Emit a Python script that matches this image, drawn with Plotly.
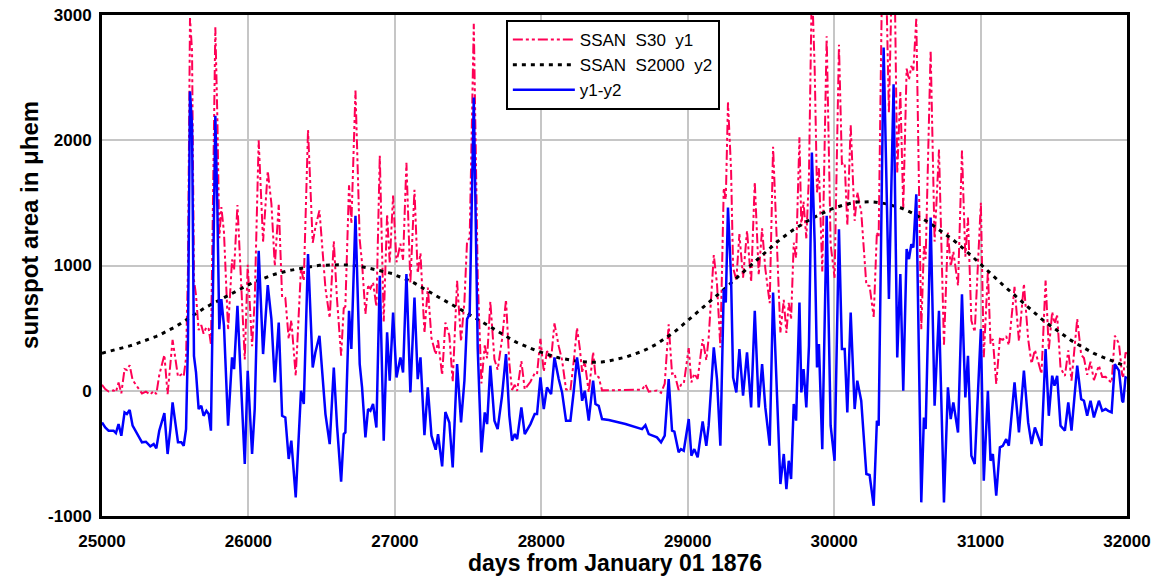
import plotly.graph_objects as go

# ---- data ----
days = [
    25000, 25022, 25045, 25079, 25095, 25113, 25132, 25154, 25170, 25189, 25209, 25239, 25273, 25300,
    25330, 25353, 25371, 25391, 25426, 25448, 25467, 25482, 25501, 25519, 25542, 25558, 25574, 25587,
    25601, 25615, 25628, 25642, 25660, 25678, 25694, 25713, 25729, 25744, 25756, 25774, 25788, 25801,
    25815, 25833, 25861, 25888, 25902, 25925, 25947, 25975, 25995, 26025, 26043, 26070, 26100, 26132,
    26157, 26180, 26207, 26230, 26252, 26275, 26293, 26323, 26359, 26378, 26407, 26439, 26457, 26485,
    26526, 26555, 26583, 26605, 26633, 26651, 26662, 26687, 26703, 26731, 26760, 26776, 26799, 26817,
    26833, 26851, 26874, 26897, 26924, 26947, 26965, 26988, 27011, 27038, 27056, 27079, 27106, 27134,
    27156, 27175, 27202, 27225, 27250, 27279, 27295, 27323, 27345, 27372, 27395, 27425, 27452, 27475,
    27493, 27511, 27539, 27566, 27591, 27614, 27630, 27652, 27680, 27702, 27732, 27759, 27782, 27800,
    27819, 27835, 27864, 27887, 27926, 27955, 27971, 27994, 28017, 28039, 28067, 28090, 28119, 28142,
    28169, 28199, 28222, 28244, 28263, 28279, 28297, 28324, 28354, 28370, 28392, 28415, 28461, 28575,
    28688, 28711, 28734, 28790, 28818, 28843, 28870, 28893, 28909, 28938, 28954, 28973, 29007, 29025,
    29045, 29068, 29102, 29127, 29143, 29178, 29200, 29223, 29246, 29260, 29275, 29296, 29310, 29332,
    29353, 29378, 29405, 29433, 29458, 29485, 29508, 29530, 29560, 29583, 29610, 29633, 29656, 29674,
    29690, 29706, 29724, 29740, 29763, 29776, 29791, 29810, 29828, 29848, 29867, 29883, 29896, 29919,
    29949, 29976, 30003, 30033, 30053, 30072, 30090, 30113, 30140, 30158, 30185, 30220, 30242, 30270,
    30292, 30304, 30338, 30356, 30374, 30406, 30431, 30452, 30472, 30495, 30511, 30527, 30541, 30561,
    30577, 30595, 30613, 30625, 30659, 30686, 30716, 30750, 30777, 30796, 30814, 30846, 30873, 30896,
    30914, 30937, 30960, 30977, 31002, 31022, 31050, 31068, 31084, 31107, 31132, 31152, 31175, 31193,
    31211, 31232, 31262, 31296, 31325, 31348, 31371, 31394, 31416, 31444, 31466, 31489, 31505, 31523,
    31546, 31576, 31599, 31621, 31660, 31687, 31706, 31728, 31751, 31774, 31808, 31831, 31854, 31872,
    31895, 31917, 31945, 31967, 31974, 31990, 32000,
]

# y1 - y2 (blue curve)
y1_minus_y2 = [
    -253, -293, -319, -319, -338, -266, -359, -173, -186, -154, -279, -346, -412, -407,
    -444, -426, -460, -319, -178, -505, -306, -93, -253, -412, -412, -439, -306, 386,
    2390, 2115, 279, 146, -146, -120, -200, -160, -186, -319, 652, 2195, 1450, 492,
    732, 519, -279, 266, 173, 678, 120, -585, 160, -505, -146, 1117, 293, 843,
    572, 67, 545, -200, -213, -545, -399, -851, 0, -106, 1091, 186, 306, 439,
    -186, -426, 186, -279, -726, -346, -333, 638, 333, 1397, 213, 27, -372, -146,
    -160, -106, -293, 918, -399, 466, 80, 625, 106, 266, 146, 931, -13, 745,
    93, 266, -354, 27, -359, -471, -346, -604, -170, -253, -612, 213, -253, 80,
    572, 612, 2341, 333, -492, -173, -266, 200, -239, -306, -40, 293, -200, -399,
    -346, -386, -133, -346, -266, -186, -186, 106, -146, 27, -27, 266, 93, -13,
    -239, -239, 0, 266, 106, -80, 0, -239, 80, -106, -120, -226, -234, -265,
    -306, -275, -346, -372, -412, -359, 93, -319, -327, -492, -466, -479, -226, -519,
    -466, -532, -245, -439, -279, 346, 93, -439, 811, 705, 1463, 904, 106, -13,
    333, -40, 306, -133, 638, -133, 213, -133, -439, 785, -40, -745, -505, -785,
    -559, -705, -106, -239, 705, -13, 173, -133, 359, 1902, 1184, 186, 372, -466,
    1397, -279, -559, 1290, 333, 333, -173, 625, -146, 80, -80, -665, -673, -918,
    -239, -279, 2740, 1716, 732, 2447, 266, 931, 0, 1131, 1051, 1170, 1144, 1569,
    279, -891, -213, -306, 1383, -120, 638, -891, 27, -226, -93, -333, 771, -53,
    279, -519, -585, -146, 492, -718, 0, -559, -505, -838, -452, -439, -386, -439,
    -173, 67, -333, 160, -253, -426, -293, -372, -439, 333, -200, 120, 40, 120,
    -279, -319, -93, -319, 200, -67, -80, -200, -80, -213, -80, -160, -146, -160,
    -173, 213, 160, -80, -93, 106, 100,
]

# y2 = SSAN S2000 (black dotted curve)
y2 = [
    300, 306, 313, 322, 327, 332, 339, 346, 352, 358, 365, 377, 390, 400,
    414, 425, 434, 444, 464, 478, 490, 499, 511, 524, 542, 554, 566, 575,
    586, 596, 606, 617, 630, 644, 656, 669, 679, 689, 697, 708, 717, 726,
    735, 746, 765, 782, 791, 805, 819, 835, 845, 861, 870, 883, 898, 911,
    921, 930, 940, 948, 954, 959, 963, 970, 978, 983, 990, 995, 997, 1001,
    1004, 1006, 1007, 1008, 1006, 1005, 1005, 1003, 1002, 999, 994, 992, 985, 980,
    976, 971, 965, 959, 952, 945, 940, 934, 920, 908, 900, 890, 876, 859,
    845, 832, 814, 797, 780, 760, 749, 729, 714, 695, 683, 664, 647, 632,
    620, 608, 588, 569, 551, 535, 525, 511, 490, 474, 452, 433, 416, 405,
    394, 385, 369, 357, 338, 325, 318, 308, 299, 290, 279, 272, 263, 257,
    250, 242, 239, 236, 233, 231, 229, 228, 228, 228, 228, 229, 238, 268,
    314, 326, 339, 374, 395, 415, 437, 455, 469, 498, 514, 533, 567, 585,
    604, 626, 657, 683, 700, 737, 760, 784, 808, 823, 839, 861, 875, 897,
    918, 943, 971, 1001, 1028, 1058, 1084, 1107, 1138, 1162, 1190, 1211, 1230, 1247,
    1261, 1275, 1288, 1300, 1318, 1327, 1337, 1350, 1362, 1376, 1388, 1398, 1405, 1418,
    1434, 1448, 1461, 1472, 1479, 1486, 1492, 1497, 1503, 1506, 1508, 1509, 1509, 1507,
    1505, 1504, 1496, 1492, 1487, 1479, 1470, 1461, 1452, 1441, 1432, 1423, 1415, 1401,
    1391, 1379, 1368, 1360, 1335, 1311, 1287, 1258, 1235, 1219, 1203, 1172, 1146, 1124,
    1104, 1079, 1054, 1035, 1008, 986, 955, 935, 918, 893, 867, 846, 822, 803,
    784, 762, 730, 694, 665, 643, 619, 596, 574, 547, 528, 509, 496, 481,
    462, 437, 416, 400, 373, 354, 341, 327, 312, 298, 281, 270, 258, 248,
    236, 227, 216, 207, 205, 199, 195,
]

# y1 = SSAN S30 (red curve) = (y1 - y2) + y2
y1 = [d + s for d, s in zip(y1_minus_y2, y2)]

x_tick_vals = [25000, 26000, 27000, 28000, 29000, 30000, 31000, 32000]
x_tick_text = ["25000", "26000", "27000", "28000", "29000", "30000", "31000", "32000"]
y_tick_vals = [-1000, 0, 1000, 2000, 3000]
y_tick_text = ["-1000", "0", "1000", "2000", "3000"]

names = ["SSAN\u00a0 S30\u00a0 y1", "SSAN\u00a0 S2000\u00a0 y2", "y1-y2"]

FONT = "Liberation Sans, Arial, sans-serif"

fig = go.Figure()
fig.add_trace(go.Scatter(
    x=days, y=y1, mode="lines", name=names[0],
    line=dict(color="#FF0055", width=2, dash="10px,3px,3px,3px,3px,3px"),
))
fig.add_trace(go.Scatter(
    x=days, y=y2, mode="lines", name=names[1],
    line=dict(color="black", width=3, dash="4px,5px"),
))
fig.add_trace(go.Scatter(
    x=days, y=y1_minus_y2, mode="lines", name=names[2],
    line=dict(color="#0000FF", width=2.5),
))

axis_common = dict(
    showgrid=True, gridcolor="#c6c6c6", gridwidth=1.5,
    showline=True, linecolor="black", linewidth=3, mirror=True,
    ticks="", zeroline=False, automargin=False,
    tickfont=dict(family=FONT, size=17, color="black", weight="bold"),
)

fig.update_layout(
    width=1164, height=576,
    margin=dict(l=102, r=37, t=15, b=60),
    paper_bgcolor="white", plot_bgcolor="white",
    font=dict(family=FONT, color="black"),
    xaxis=dict(range=[25000, 32000], tickmode="array", tickvals=x_tick_vals,
               ticktext=x_tick_text, ticklabelstandoff=8, **axis_common),
    yaxis=dict(range=[-1000, 3000], tickmode="array", tickvals=y_tick_vals,
               ticktext=y_tick_text, ticklabelstandoff=4, **axis_common),
    legend=dict(
        x=0.394, y=0.99, xanchor="left", yanchor="top",
        bgcolor="white", bordercolor="black", borderwidth=2,
        font=dict(family=FONT, size=17, color="black"),
        tracegroupgap=0, itemwidth=62,
    ),
    showlegend=True,
    annotations=[
        dict(text="<b>days from January 01 1876</b>", xref="paper", yref="paper",
             x=0.5, y=-0.094, xanchor="center", yanchor="middle", showarrow=False,
             font=dict(family=FONT, size=23, color="black")),
        dict(text="<b>sunspot area in \u03bchem</b>", xref="paper", yref="paper",
             x=-0.0702, y=0.581, xanchor="center", yanchor="middle", showarrow=False,
             textangle=-90, font=dict(family=FONT, size=24, color="black")),
    ],
)

fig.write_html("out.html")
